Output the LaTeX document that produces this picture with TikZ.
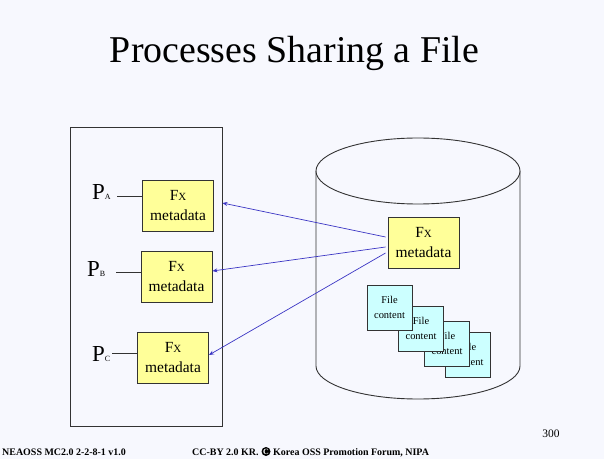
\documentclass[tikz,border=0pt]{standalone}
\usepackage{fontspec}
\setmainfont{Liberation Serif}
\usetikzlibrary{arrows.meta}
\definecolor{bg}{HTML}{F7F8FE}
\definecolor{meta}{HTML}{FFFF99}
\definecolor{filec}{HTML}{CCFFFF}
\definecolor{arr}{HTML}{3B35C4}
\definecolor{edge}{HTML}{333333}
\tikzset{
  metabox/.style={draw=edge, line width=0.9bp, fill=meta, minimum width=71bp, minimum height=51bp, inner sep=0pt, align=center, font=\fontsize{15.5}{20}\selectfont},
  filebox/.style={draw=edge, line width=0.9bp, fill=filec, minimum width=45bp, minimum height=45bp, inner sep=0pt, align=center, font=\fontsize{10.5}{15}\selectfont},
  plabel/.style={inner sep=0pt, anchor=base west, font=\fontsize{23}{23}\selectfont},
  pline/.style={draw=edge, line width=0.9bp},
  share/.style={draw=arr, line width=0.7bp, -{Stealth[length=5bp,width=4bp]}},
  foot/.style={inner sep=0pt, anchor=base west, font=\fontsize{10}{10}\selectfont\bfseries},
}
\newcommand{\fxtext}{F{\fontsize{11}{11}\selectfont X}\\metadata}
\newcommand{\subsc}[1]{{\fontsize{8}{8}\selectfont #1}}
\begin{document}
\begin{tikzpicture}[x=1bp,y=-1bp]
\path[fill=bg] (0,0) rectangle (604,459);
\useasboundingbox (0,0) rectangle (604,459);
% title
\node[inner sep=0pt, anchor=base, font=\fontsize{38}{40}\selectfont] (title) at (294.5,63) {Processes Sharing a File};
% process area
\node[draw=edge, line width=0.9bp, minimum width=152bp, minimum height=299bp, inner sep=0pt] (proc) at (146,276.5) {};
\node[metabox] (boxA) at (178,205.5) {\fxtext};
\node[metabox] (boxB) at (176.5,276.5) {\fxtext};
\node[metabox] (boxC) at (173,357.5) {\fxtext};
\node[plabel] (PA) at (92,200) {P\subsc{A}};
\node[plabel] (PB) at (87,277) {P\subsc{B}};
\node[plabel] (PC) at (92,361) {P\subsc{C}};
\coordinate (pa) at (117,196);
\coordinate (pb) at (116,272);
\coordinate (pc) at (112,353);
\draw[pline] (pa) -- (boxA.west |- pa);
\draw[pline] (pb) -- (boxB.west |- pb);
\draw[pline] (pc) -- (boxC.west |- pc);
% disk
\draw[edge, line width=0.9bp, fill=bg] (316,171) -- (316,366) arc[start angle=180, end angle=0, x radius=102, y radius=33] -- (520,171);
\draw[edge, line width=0.9bp, fill=bg] (418,171) ellipse[x radius=102, y radius=33];
\node[metabox] (center) at (423.5,242.5) {\fxtext};
\node[filebox] (f4) at (468,354.5) {File\\content};
\node[filebox] (f3) at (447,343.5) {File\\content};
\node[filebox] (f2) at (421,328.5) {File\\content};
\node[filebox] (f1) at (389.5,307.5) {File\\content};
% sharing arrows
\coordinate (sA) at ([xshift=-2bp,yshift=5.5bp]center.west);
\coordinate (sB) at ([xshift=-2bp,yshift=-4.5bp]center.west);
\coordinate (sC) at ([xshift=-2bp,yshift=-10.5bp]center.west);
\coordinate (tA) at (proc.east |- 0,203);
\coordinate (tB) at ([yshift=5.5bp]boxB.east);
\coordinate (tC) at ([yshift=2.5bp]boxC.east);
\draw[share] (sA) -- (tA);
\draw[share] (sB) -- (tB);
\draw[share] (sC) -- (tC);
% footer
\node[inner sep=0pt, anchor=base, font=\fontsize{11.5}{11.5}\selectfont] (page) at (551,437) {300};
\node[foot] (left) at (2,455) {NEAOSS MC2.0 2-2-8-1 v1.0};
\node[foot] (ccby) at (192,455) {CC-BY 2.0 KR.};
\node[circle, fill=black, inner sep=0pt, minimum size=9bp, text=white, font=\fontsize{8}{8}\selectfont\bfseries] (copy) at (266,451.5) {C};
\node[foot] (korea) at (273,455) {Korea OSS Promotion Forum, NIPA};
\end{tikzpicture}
\end{document}
